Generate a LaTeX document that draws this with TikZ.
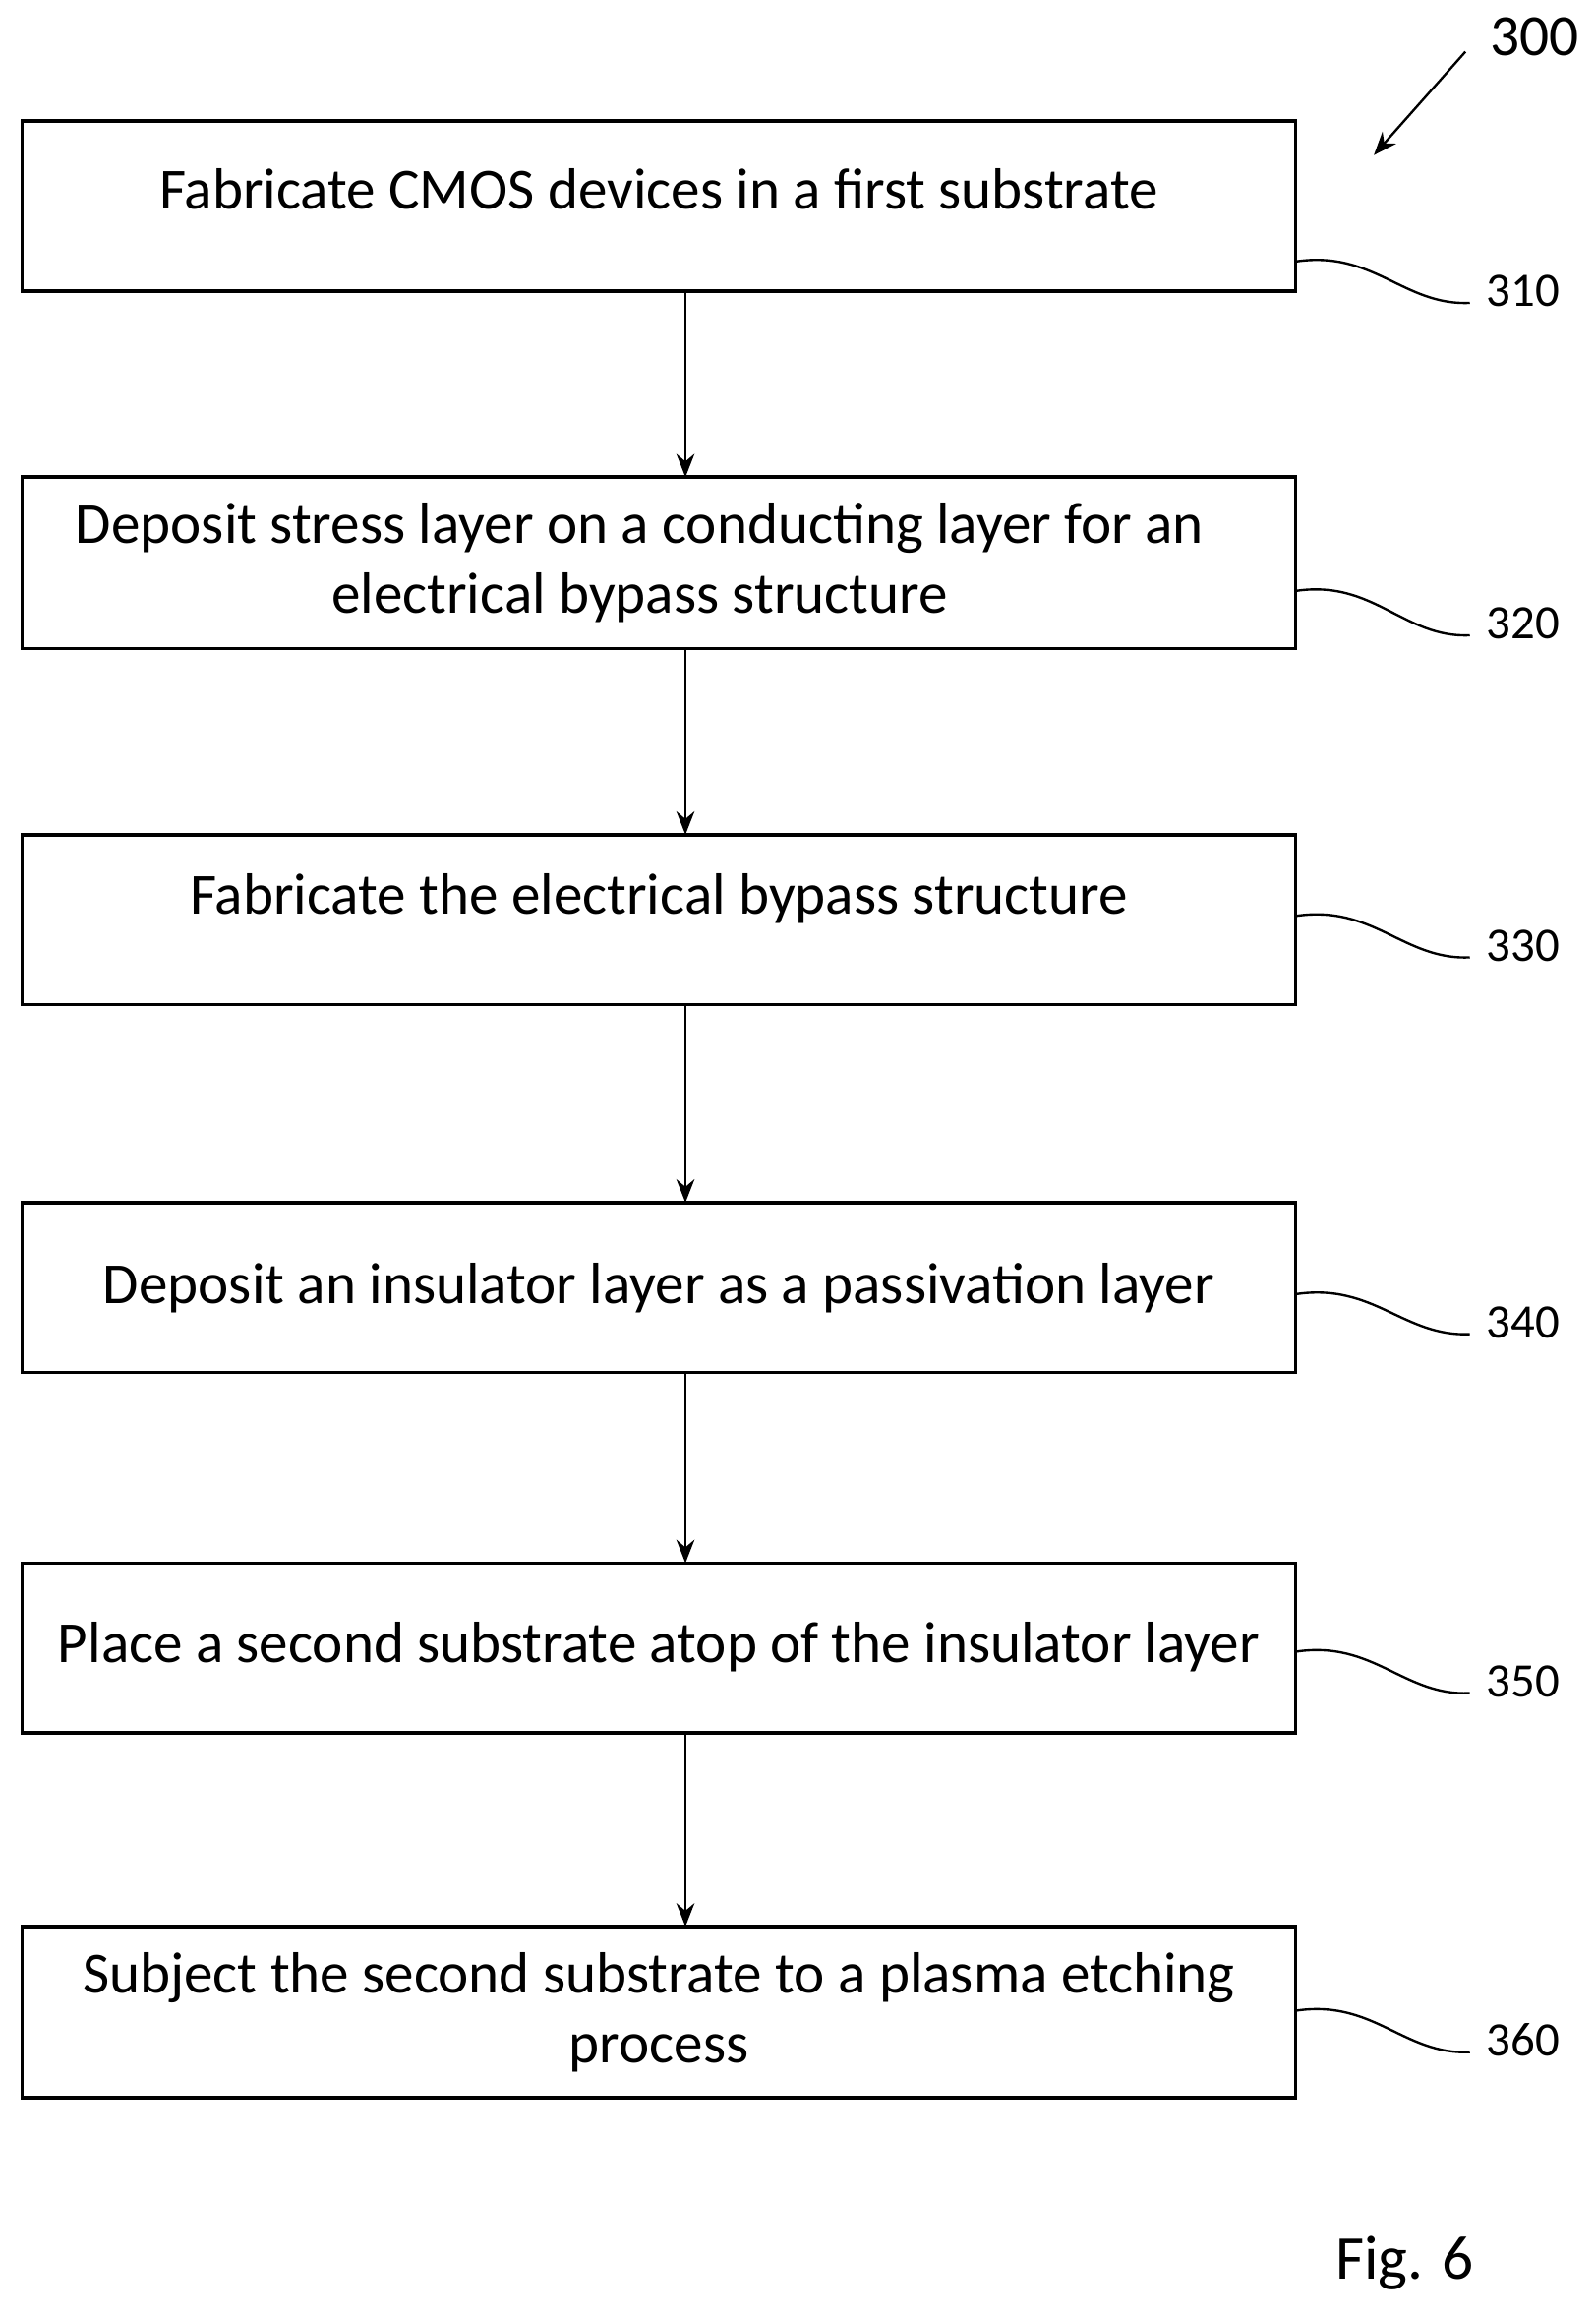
\documentclass[tikz,border=0pt]{standalone}
\usepackage{fontspec}
\setmainfont{Carlito}
\usetikzlibrary{arrows.meta}
\begin{document}
\begin{tikzpicture}[x=0.02cm,y=-0.02cm,
 box/.style={draw,line width=1.4pt,inner sep=0,outer sep=0},
 txt/.style={font=\fontsize{22.4}{26.7}\selectfont,align=center},
 lbl/.style={font=\fontsize{18.5}{22}\selectfont},
 arr/.style={-{Stealth[length=9pt,width=7pt]},line width=0.9pt},
 sq/.style={line width=0.9pt}]
\useasboundingbox (0,0) rectangle (1080,1569);
\foreach \n/\t/\b/\ty/\s/\e/\l/\tx/\txt in {
 1/82/197/128/177/205/310/446/{Fabricate CMOS devices in a first substrate},
 2/323/439/381/400/430/320/433/{Deposit stress layer on a conducting layer for an\\electrical bypass structure},
 3/565/680/608/620/648/330/446/{Fabricate the electrical bypass structure},
 4/814/929/872/876/903/340/446/{Deposit an insulator layer as a passivation layer},
 5/1058/1173/1115/1118/1146/350/446/{Place a second substrate atop of the insulator layer},
 6/1304/1420/1362/1361/1389/360/446/{Subject the second substrate to a plasma etching\\process}}{
 \node[box,minimum width=862*0.02cm,minimum height={(\b-\t)*0.02cm},anchor=north west] (b\n) at (15,\t) {};
 \node[txt] (t\n) at (\tx,\ty) {\txt};
 \coordinate (s\n) at (877,\s);
 \coordinate (e\n) at (995,\e);
 \draw[sq] (s\n) .. controls (930,\s-8) and (950,\e+2) .. (e\n);
 \node[lbl,anchor=west] (l\n) at (1000,\e-8) {\l};
}
\foreach \a/\b in {1/2,2/3,3/4,4/5,5/6}{
 \draw[arr] (464,0 |- b\a.south) -- (464,0 |- b\b.north);
}
\node[font=\fontsize{22.5}{26}\selectfont] (n300) at (1039,25) {300};
\coordinate (p1) at (992,35);
\coordinate (p2) at (930,105);
\draw[arr] (p1) -- (p2);
\node[font=\fontsize{24}{28}\selectfont] (fig) at (951,1532) {Fig. 6};
\end{tikzpicture}
\end{document}
